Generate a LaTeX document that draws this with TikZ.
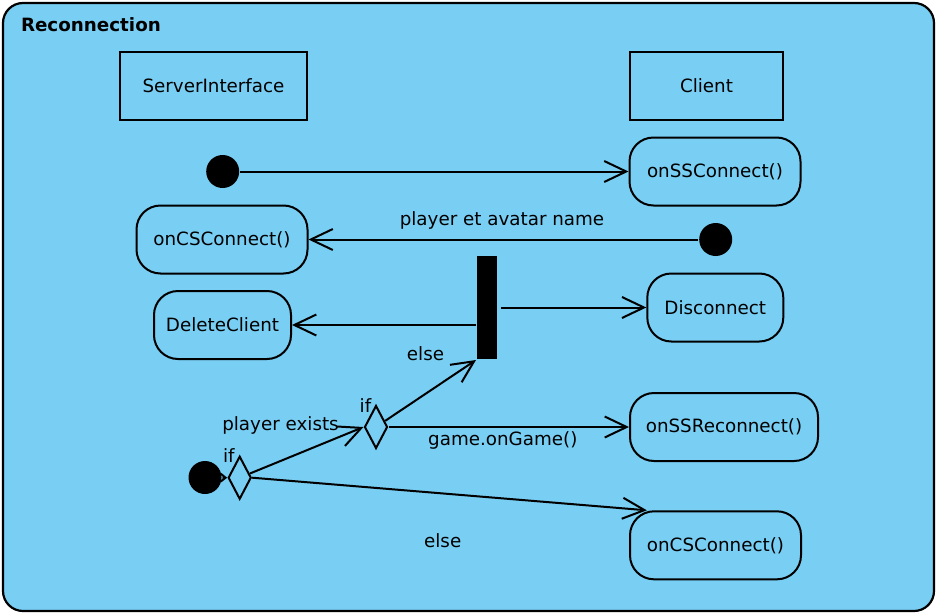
\documentclass[tikz,border=0pt]{standalone}
\usepackage{fontspec}
\setmainfont{DejaVu Sans}
\usetikzlibrary{arrows.meta,shapes.geometric}
\definecolor{panelblue}{RGB}{121,206,243}

\begin{document}
\begin{tikzpicture}[
    x=1pt,y=-1pt,
    font=\fontsize{18.3}{22}\selectfont,
    lane/.style={rectangle,draw,line width=2pt,minimum width=187pt,minimum height=68pt},
    act/.style={rectangle,draw,line width=2pt,rounded corners=24pt,minimum width=171pt,
                minimum height=68pt,inner sep=0pt},
    initdot/.style={circle,fill=black,minimum size=33pt,inner sep=0pt},
    choice/.style={diamond,draw,line width=2pt,minimum width=23pt,minimum height=43pt,inner sep=0pt},
    lbl/.style={anchor=base,inner sep=0pt},
    >={Straight Barb[length=22pt,width=21pt]},line width=2pt
  ]
    \useasboundingbox (0,0) rectangle (936,613);
    \draw[fill=panelblue,line width=2.2pt,rounded corners=20pt] (3,3) rectangle (934,611);
    \node[lbl,anchor=base west,font=\fontsize{18.3}{22}\selectfont\bfseries] (title) at (20,31.5) {Reconnection};

    \node[lane] (srv) at (213.5,86) {ServerInterface};
    \node[lane,minimum width=153pt] (cli) at (706.5,86) {Client};
    \node[initdot] (dot1) at (222.7,171.5) {};
    \node[act] (ssconn) at (715,171.5) {onSSConnect()};
    \node[act] (csconn) at (222,239.5) {onCSConnect()};
    \node[initdot] (dot2) at (715.7,239.5) {};
    \node[fill=black,minimum width=20pt,minimum height=103pt,inner sep=0pt] (bar) at (487,307.5) {};
    \node[act,minimum width=137pt] (delcl) at (222.5,325) {DeleteClient};
    \node[act,minimum width=136pt] (disc) at (715.3,307.5) {Disconnect};
    \node[choice] (ifexists) at (376,427) {};
    \node[act,minimum width=188pt] (ssrec) at (724,427) {onSSReconnect()};
    \node[initdot] (dot3) at (205,477.5) {};
    \node[choice] (ifplayer) at (239.7,477.7) {};
    \node[act] (csconn2) at (715.5,545.3) {onCSConnect()};

    \node[lbl] (lblname) at (502,225) {player et avatar name};
    \node[lbl] (lblelse) at (425.5,360.5) {else};
    \node[lbl] (lblif) at (365.5,412.3) {if};
    \node[lbl] (lblgame) at (502.8,445) {game.onGame()};
    \node[lbl] (lblexists) at (280.5,430) {player exists};
    \node[lbl] (lblif2) at (228.8,462.5) {if};
    \node[lbl] (lblelse2) at (442.7,547.3) {else};

    \draw[->] (dot1) -- (ssconn);
    \draw[->] (dot2) -- (csconn);
    \draw[->] (bar.west |- delcl) -- (delcl);
    \draw[->] ([xshift=3pt]bar.east) -- (disc);
    \draw[->] (ifexists) -- (bar.south west);
    \draw[->] (ifexists) -- (ssrec);
    \draw[->] (ifplayer) -- (ifexists.west);
    \draw[->] (ifplayer.east) -- (csconn2.153);
    \draw[-{Straight Barb[length=5pt,width=8pt]}] (dot3) -- (ifplayer.west);
  \end{tikzpicture}
\end{document}
